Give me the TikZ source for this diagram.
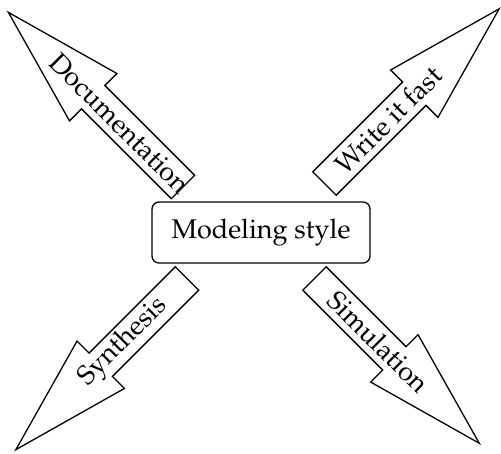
\documentclass[tikz,border=0pt]{standalone}
\usepackage[T1]{fontenc}
\usepackage{mathpazo}
\tikzset{
  base/.style={draw=black, line width=1.3pt, line join=miter},
  box/.style={base, rounded corners=7pt, minimum width=218pt, minimum height=61pt},
  lab/.style={font=\fontsize{27}{32}\selectfont, inner sep=0pt},
}
\begin{document}
\begin{tikzpicture}[x=1pt,y=1pt]
  \useasboundingbox (0,0) rectangle (501,453);
  \node[box,lab] (style) at (261,220.5) {Modeling style};
  % tail points of the four arrows
  \coordinate (doc) at (183,266);
  \coordinate (fast) at (324.5,269.5);
  \coordinate (syn) at (187,174.5);
  \coordinate (sim) at (314.5,174.5);
  \foreach \nm/\ang/\len/\flip/\txt in {doc/135/247/180/Documentation, fast/45/247/0/Write it fast, syn/-135/242/180/Synthesis, sim/-45/233/0/Simulation}{
    \begin{scope}[shift={(\nm)}, rotate=\ang, transform shape]
      \draw[base] (0,-16.5) -- ({\len-120},-16.5) -- ({\len-120},-33.5) -- (\len,0)
        -- ({\len-120},33.5) -- ({\len-120},16.5) -- (0,16.5) -- cycle;
      \node[lab, rotate=\flip] (\nm-lab) at (90,0) {\txt};
    \end{scope}
  }
\end{tikzpicture}
\end{document}
